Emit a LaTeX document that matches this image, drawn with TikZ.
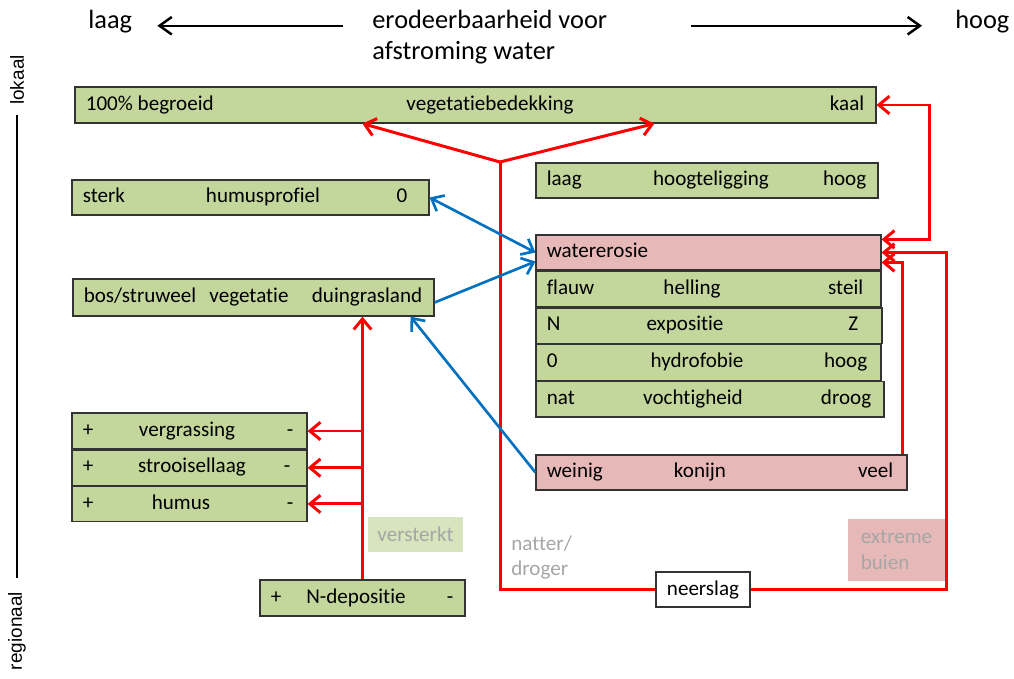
\documentclass[tikz,border=0pt]{standalone}
\usepackage{fontspec}
\setmainfont[Ligatures=NoCommon]{Carlito}
\newfontfamily\arialfont{Liberation Sans}
\usepackage{xcolor}
\usetikzlibrary{arrows.meta}

\definecolor{barGreen}{HTML}{C3D69B}
\definecolor{barPink}{HTML}{E6B9B8}
\definecolor{paleGreen}{HTML}{D7E4BD}
\definecolor{lineRed}{HTML}{FF0000}
\definecolor{lineBlue}{HTML}{0070C0}
\definecolor{noteGray}{HTML}{A6A6A6}

\begin{document}
\begin{tikzpicture}[x=0.02cm, y=-0.02cm, every node/.style={font=\fontsize{12}{14.4}\selectfont}]
        % Styles for bars, texts and connectors
        \tikzstyle{gbar} = [rectangle, draw=black!80, fill=barGreen, line width=0.7pt, inner sep=0pt, minimum height=0.70cm]
        \tikzstyle{pbar} = [gbar, fill=barPink]
        \tikzstyle{txt} = [inner sep=0pt, text height=1.5ex, text depth=0.25ex]
        \tikzstyle{ltxt} = [txt, anchor=west, xshift=0.22cm]
        \tikzstyle{rtxt} = [txt, anchor=east, xshift=-0.24cm]
        \tikzstyle{head} = [txt, anchor=base west, font=\fontsize{15}{18}\selectfont]
        \tikzstyle{side} = [inner sep=0pt, rotate=90, font=\arialfont\fontsize{10.8}{13}\selectfont]
        \tikzstyle{blackarrow} = [black, line width=1.4pt, ->, >={Straight Barb[length=7pt,width=10pt]}]
        \tikzstyle{redline} = [lineRed, line width=1.7pt]
        \tikzstyle{redarrow} = [redline, ->, >={Straight Barb[length=6pt,width=10pt]}]
        \tikzstyle{bluearrow} = [lineBlue, line width=1.5pt, ->, >={Straight Barb[length=6pt,width=10pt]}]

        \useasboundingbox (0,0) rectangle (1014,679);

        % Header
        \node (low) [head] at (88,28.5) {laag};
        \node (title1) [head] at (372,28.5) {erodeerbaarheid voor};
        \node (title2) [head] at (372,60) {afstroming water};
        \node (high) [head] at (955,28.5) {hoog};
        \draw [blackarrow, shorten <=0.58cm, shorten >=0.5cm] ([yshift=-0.05cm]title1.west) -- ([yshift=-0.05cm]low.east);
        \draw [blackarrow, shorten <=1.68cm, shorten >=0.66cm] ([yshift=-0.05cm]title1.east) -- ([yshift=-0.05cm]high.west);

        % Scale on the left
        \node (local) [side] at (17,80) {lokaal};
        \node (regional) [side] at (17,631) {regionaal};
        \draw [line width=1.6pt, shorten <=0.2cm, shorten >=0.28cm] (local.west) -- (regional.east);

        % Bars on top
        \node (cover) [gbar, minimum width=16.02cm, minimum height=0.72cm] at (475.5,105) {};
        \node (coverL) [ltxt] at (cover.west) {100\% begroeid};
        \node (coverM) [txt, xshift=0.29cm] at (cover.center) {vegetatiebedekking};
        \node (coverR) [rtxt] at (cover.east) {kaal};

        \node (height) [gbar, minimum width=6.84cm] at (707,180.5) {};
        \node (heightL) [ltxt] at (height.west) {laag};
        \node (heightM) [txt, xshift=0.08cm] at (height.center) {hoogteligging};
        \node (heightR) [rtxt] at (height.east) {hoog};

        % Water erosion and its factors
        \node (erosion) [pbar, minimum width=6.90cm] at (708.5,252.5) {};
        \node (erosionL) [ltxt] at (erosion.west) {watererosie};

        \node (slope) [gbar, minimum width=6.90cm, minimum height=0.71cm, anchor=north west] at (erosion.south west) {};
        \node (slopeL) [ltxt] at (slope.west) {flauw};
        \node (slopeM) [txt, xshift=-0.33cm] at (slope.center) {helling};
        \node (slopeR) [rtxt, xshift=-0.12cm] at (slope.east) {steil};

        \node (aspect) [gbar, minimum width=6.92cm, minimum height=0.71cm, anchor=north west] at (slope.south west) {};
        \node (aspectL) [ltxt] at (aspect.west) {N};
        \node (aspectM) [txt, xshift=-0.48cm] at (aspect.center) {expositie};
        \node (aspectR) [rtxt, xshift=-0.24cm] at (aspect.east) {Z};

        \node (hydro) [gbar, minimum width=6.90cm, minimum height=0.71cm, anchor=north west] at (aspect.south west) {};
        \node (hydroL) [ltxt] at (hydro.west) {0};
        \node (hydroM) [txt, xshift=-0.23cm] at (hydro.center) {hydrofobie};
        \node (hydroR) [rtxt, xshift=-0.04cm] at (hydro.east) {hoog};

        \node (moist) [gbar, minimum width=6.96cm, minimum height=0.71cm, anchor=north west] at (hydro.south west) {};
        \node (moistL) [ltxt] at (moist.west) {nat};
        \node (moistM) [txt, xshift=-0.34cm] at (moist.center) {vochtigheid};
        \node (moistR) [rtxt, xshift=-0.02cm] at (moist.east) {droog};

        \node (rabbit) [pbar, minimum width=7.42cm] at (721.5,472.5) {};
        \node (rabbitL) [ltxt] at (rabbit.west) {weinig};
        \node (rabbitM) [txt, xshift=-0.43cm] at (rabbit.center) {konijn};
        \node (rabbitR) [rtxt, xshift=-0.04cm] at (rabbit.east) {veel};

        % Bars on the left
        \node (humprof) [gbar, minimum width=7.14cm] at (250.5,197.5) {};
        \node (humprofL) [ltxt] at (humprof.west) {sterk};
        \node (humprofM) [txt, xshift=0.25cm] at (humprof.center) {humusprofiel};
        \node (humprofR) [rtxt, xshift=-0.2cm] at (humprof.east) {0};

        \node (veget) [gbar, minimum width=7.22cm, minimum height=0.74cm] at (253.5,297.5) {};
        \node (vegetL) [ltxt] at (veget.west) {bos/struweel};
        \node (vegetM) [txt, xshift=-0.09cm] at (veget.center) {vegetatie};
        \node (vegetR) [rtxt] at (veget.east) {duingrasland};

        \node (grassing) [gbar, minimum width=4.70cm, minimum height=0.72cm] at (189.5,431) {};
        \node (grassingL) [ltxt] at (grassing.west) {+};
        \node (grassingM) [txt, xshift=-0.05cm] at (grassing.center) {vergrassing};
        \node (grassingR) [rtxt, xshift=-0.04cm] at (grassing.east) {-};

        \node (litter) [gbar, minimum width=4.70cm, anchor=north west] at (grassing.south west) {};
        \node (litterL) [ltxt] at (litter.west) {+};
        \node (litterM) [txt, xshift=0.05cm] at (litter.center) {strooisellaag};
        \node (litterR) [rtxt, xshift=-0.1cm] at (litter.east) {-};

        \node (humus) [gbar, minimum width=4.70cm, anchor=north west] at (litter.south west) {};
        \node (humusL) [ltxt] at (humus.west) {+};
        \node (humusM) [txt, xshift=-0.17cm] at (humus.center) {humus};
        \node (humusR) [rtxt, xshift=-0.04cm] at (humus.east) {-};

        \node (ndep) [gbar, minimum width=4.10cm, minimum height=0.72cm] at (362.5,598) {};
        \node (ndepL) [ltxt] at (ndep.west) {+};
        \node (ndepM) [txt, xshift=-0.13cm] at (ndep.center) {N-depositie};
        \node (ndepR) [rtxt] at (ndep.east) {-};

        % Notes
        \node (rain) [rectangle, draw=black!80, line width=0.7pt, fill=white, minimum width=1.88cm, minimum height=0.70cm, inner sep=0pt] at (703,589.5) {neerslag};
        \node (boost) [fill=paleGreen, text=noteGray, minimum width=1.90cm, minimum height=0.70cm, inner sep=0pt] at (415.5,534.5) {versterkt};
        \node (storms) [fill=barPink, text=noteGray, align=left, minimum width=1.94cm, minimum height=1.24cm, inner sep=0pt] at (896.5,550) {extreme\\buien};
        \node (wetdry) [text=noteGray, align=left, anchor=west, inner sep=0pt] at (511,557.5) {natter/\\droger};

        % Red connectors
        \coordinate (split) at (500,162);
        \draw [redline] (rain.west) -| (split);
        \draw [redarrow] (split) -- ([xshift=5.76cm]cover.south west);
        \draw [redarrow] (split) -- ([xshift=11.6cm]cover.south west);
        \draw [redarrow, <->] (cover.east) -- ++(1.06cm,0) |- ([yshift=-0.1cm]erosion.north east);
        \draw [redarrow] (rain.east) -- ++(3.92cm,0) |- (erosion.east);
        \draw [redarrow] ([xshift=-0.1cm]rabbit.north east) |- ([yshift=-0.2cm]erosion.east);
        \draw [redarrow] (ndep.north) -- (ndep.north |- veget.south);
        \draw [redarrow] (ndep.north |- grassing.east) -- (grassing.east);
        \draw [redarrow] (ndep.north |- litter.east) -- (litter.east);
        \draw [redarrow] (ndep.north |- humus.east) -- (humus.east);

        % Blue connectors
        \draw [bluearrow, <->] (humprof.east) -- (erosion.west);
        \draw [bluearrow] ([yshift=-0.1cm]veget.east) -- ([yshift=-0.18cm]erosion.west);
        \draw [bluearrow] (rabbit.west) -- ([xshift=-0.48cm]veget.south east);
\end{tikzpicture}
\end{document}
